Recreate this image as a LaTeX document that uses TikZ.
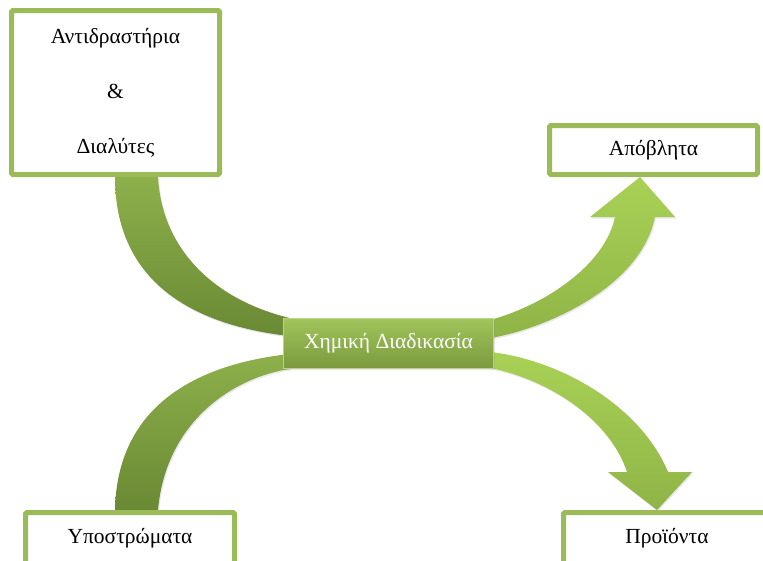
\documentclass[tikz,border=0pt]{standalone}
\usepackage{fontspec}
\setmainfont{Liberation Serif}
\usetikzlibrary{calc,backgrounds,shadows}
\definecolor{boxgreen}{HTML}{9BBB59}
\definecolor{proctop}{HTML}{A1C45B}
\definecolor{procbot}{HTML}{7A9A3E}
\definecolor{proclne}{HTML}{B9D48A}
\definecolor{darktop}{HTML}{8DB04B}
\definecolor{darkbot}{HTML}{6A8934}
\definecolor{lighttop}{HTML}{A9D155}
\definecolor{lightbot}{HTML}{8FB447}
\tikzset{
	boxshadow/.style={drop shadow={opacity=0.18, shadow xshift=1pt, shadow yshift=-1.5pt}},
	textbox/.style={draw=boxgreen, line width=5pt, fill=white, rounded corners=1.5pt, inner sep=0pt,
		align=center, font=\fontsize{21.5pt}{26pt}\selectfont, boxshadow},
	procbox/.style={draw=proclne, line width=0.8pt, top color=proctop, bottom color=procbot,
		minimum width=210pt, minimum height=50pt, inner sep=0pt, text=white,
		font=\fontsize{21.5pt}{26pt}\selectfont, boxshadow},
	darkarrow/.style={top color=darktop, bottom color=darkbot, boxshadow},
	lightarrow/.style={top color=lighttop, bottom color=lightbot, boxshadow},
}

\begin{document}
\begin{tikzpicture}[x=1pt, y=-1pt]
		%%%%% START %%%%%
		
		\useasboundingbox (0, 0) rectangle (763, 560);
		\clip (0, 0) rectangle (763, 560);
		
		\node[textbox, minimum width=208pt, minimum height=164pt] (react) at (115.5, 92.5) {Αντιδραστήρια\\[29pt]\&\\[29pt]Διαλύτες};
		\node[textbox, minimum width=208pt, minimum height=49pt] (waste) at (653.5, 150) {Απόβλητα};
		\node[textbox, minimum width=209pt, minimum height=51pt] (subst) at (130, 538) {Υποστρώματα};
		\node[textbox, minimum width=207pt, minimum height=51pt] (product) at (667, 538) {Προϊόντα};
		\node[procbox] (process) at (388.5, 343.5) {Χημική Διαδικασία};
		
		\coordinate (wastetip) at ($(waste.south)+(-13.5, 0)$);
		\coordinate (producttip) at ($(product.north)+(-10, 0)$);
		
		\begin{scope}[on background layer]
			% left: into the process
			\shade[darkarrow] ($(react.south)+(-0.5, 0)$) .. controls +(0, 103) and +(-100, -11) .. ($(process.north west)+(7, 18)$)
				-- ($(process.north west)+(7, 0)$) .. controls +(-75, -18) and +(4, 73) .. ($(react.south)+(42.5, 0)$) -- cycle;
			\shade[darkarrow] ($(subst.north)+(-15, 0)$) .. controls +(2, -100) and +(-100, 11) .. ($(process.south west)+(7, -15)$)
				-- ($(process.south west)+(7, 0)$) .. controls +(-55, 8) and +(8, -90) .. ($(subst.north)+(28, 0)$) -- cycle;
			
			% right: out of the process
			\shade[lightarrow] ($(process.north east)+(-4, 2)$) .. controls +(55, -15) and +(-10, 48) .. ($(wastetip)+(-25, 40)$)
				-- ($(wastetip)+(-50, 40)$) -- (wastetip) -- ($(wastetip)+(35, 40)$) -- ($(wastetip)+(15, 40)$)
				.. controls +(-15, 73) and +(50, -8) .. ($(process.north east)+(-4, 20)$) -- cycle;
			\shade[lightarrow] ($(process.south east)+(-4, -17)$) .. controls +(70, 8) and +(-28, -67) .. ($(producttip)+(11, -38)$)
				-- ($(producttip)+(35, -38)$) -- (producttip) -- ($(producttip)+(-49, -38)$) -- ($(producttip)+(-30, -38)$)
				.. controls +(-17, -52) and +(60, 12) .. ($(process.south east)+(-4, -1)$) -- cycle;
		\end{scope}
		
		%%%%% END %%%%%
	\end{tikzpicture}
\end{document}
